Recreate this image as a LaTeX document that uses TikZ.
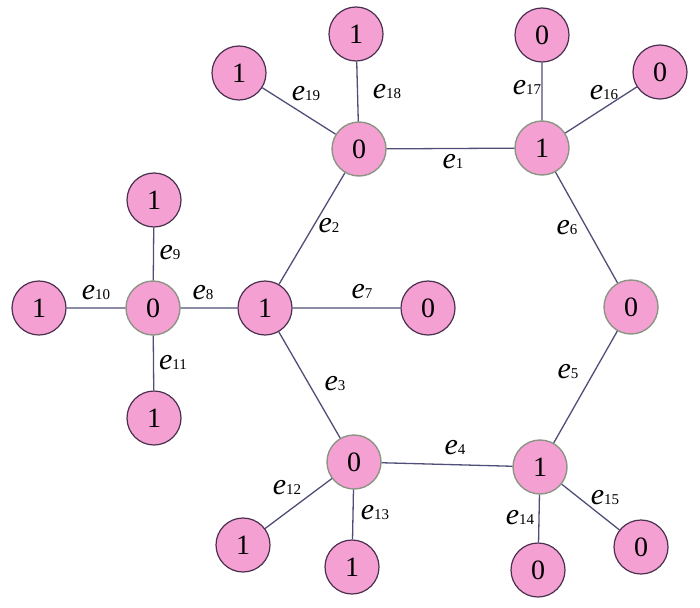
\documentclass[tikz,border=0pt]{standalone}
\usepackage{fontspec}
\setmainfont{Liberation Serif}
\definecolor{nodepink}{HTML}{F5A0D2}
\definecolor{greyrim}{HTML}{8C9484}
\definecolor{darkrim}{HTML}{4A3050}
\definecolor{edgecol}{HTML}{4E4E78}
\newcommand{\elab}[1]{\fontsize{30}{30}\selectfont\textit{e}{\fontsize{15}{15}\selectfont #1}}
\tikzset{
  vert/.style={draw=greyrim,fill=nodepink,circle,line width=1.4pt,minimum size=54pt,inner sep=0pt,font=\fontsize{28}{28}\selectfont},
  leaf/.style={vert,draw=darkrim,line width=1.2pt},
  elabel/.style={inner sep=0pt}
}
\begin{document}
\begin{tikzpicture}[x=1pt,y=-1pt]
            \useasboundingbox (0,0) rectangle (700,607);
            % hexagon
            \node[vert] (tl) at (359,149) {0};
            \node[vert] (tr) at (542,148) {1};
            \node[vert] (r)  at (631,307) {0};
            \node[vert] (br) at (540,467) {1};
            \node[vert] (bl) at (354,462) {0};
            \node[leaf] (l)  at (265,308) {1};
            % left star
            \node[vert] (hub) at (153,308) {0};
            \node[leaf] (hu) at (154,200) {1};
            \node[leaf] (hl) at (39,308) {1};
            \node[leaf] (hd) at (154,418) {1};
            \node[leaf] (m)  at (428,308) {0};
            % outer leaves
            \node[leaf] (a19) at (239,73) {1};
            \node[leaf] (a18) at (356,34) {1};
            \node[leaf] (a17) at (542,35) {0};
            \node[leaf] (a16) at (660,72) {0};
            \node[leaf] (a12) at (243,545) {1};
            \node[leaf] (a13) at (352,567) {1};
            \node[leaf] (a14) at (538,570) {0};
            \node[leaf] (a15) at (641,547) {0};

            \draw[edgecol,line width=1.3pt]
                   (tl) -- (tr)
                   (l) -- (tl)
                   (l) -- (bl)
                   (bl) -- (br)
                   (br) -- (r)
                   (r) -- (tr)
                   (l) -- (m)
                   (hub) -- (l)
                   (hub) -- (hu)
                   (hub) -- (hl)
                   (hub) -- (hd)
                   (bl) -- (a12)
                   (bl) -- (a13)
                   (br) -- (a14)
                   (br) -- (a15)
                   (tr) -- (a16)
                   (tr) -- (a17)
                   (tl) -- (a18)
                   (tl) -- (a19);

            % edge labels
            \node[elabel] (l1)  at (453,162) {\elab{1}};
            \node[elabel] (l2)  at (329,226) {\elab{2}};
            \node[elabel] (l3)  at (335,384) {\elab{3}};
            \node[elabel] (l4)  at (455,448) {\elab{4}};
            \node[elabel] (l5)  at (568,372) {\elab{5}};
            \node[elabel] (l6)  at (567,228) {\elab{6}};
            \node[elabel] (l7)  at (362,292) {\elab{7}};
            \node[elabel] (l8)  at (203,293) {\elab{8}};
            \node[elabel] (l9)  at (170,253) {\elab{9}};
            \node[elabel] (l10) at (96,293)  {\elab{10}};
            \node[elabel] (l11) at (173,363) {\elab{11}};
            \node[elabel] (l12) at (287,488) {\elab{12}};
            \node[elabel] (l13) at (375,513) {\elab{13}};
            \node[elabel] (l14) at (520,518) {\elab{14}};
            \node[elabel] (l15) at (605,498) {\elab{15}};
            \node[elabel] (l16) at (604,93)  {\elab{16}};
            \node[elabel] (l17) at (527,88)  {\elab{17}};
            \node[elabel] (l18) at (387,92)  {\elab{18}};
            \node[elabel] (l19) at (306,94)  {\elab{19}};
        \end{tikzpicture}
\end{document}
